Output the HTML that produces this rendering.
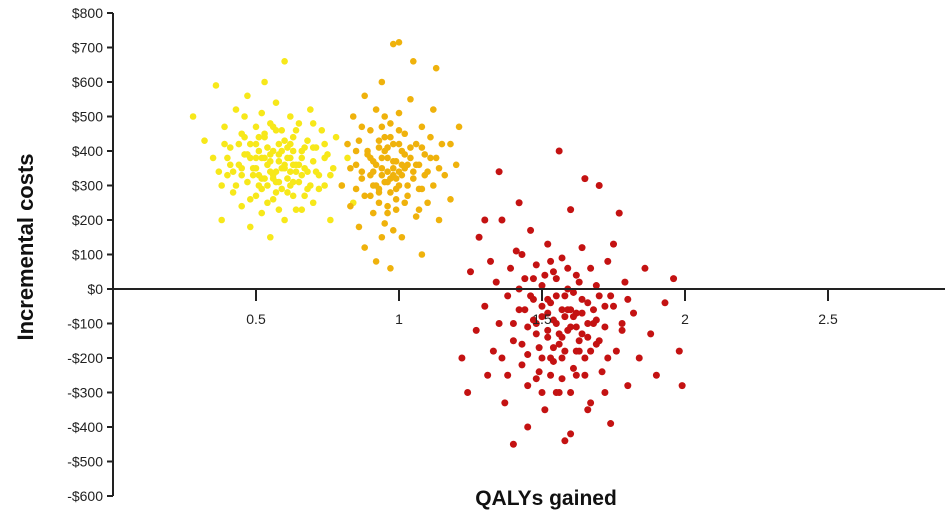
<!DOCTYPE html>
<html><head><meta charset="utf-8"><style>
html,body{margin:0;padding:0;background:#fff;}
svg{display:block;font-family:"Liberation Sans",sans-serif;}
</style></head><body>
<svg id="chart" width="945" height="519" viewBox="0 0 945 519">
<g id="points"></g>
<g id="axes"></g>
<text x="33" y="247" transform="rotate(-90 33 247)" text-anchor="middle" font-size="22" font-weight="bold" fill="#111">Incremental costs</text>
<text x="546" y="505" text-anchor="middle" font-size="21" font-weight="bold" fill="#111">QALYs gained</text>
</svg>
<script>
const yTicks=[800,700,600,500,400,300,200,100,0,-100,-200,-300,-400,-500,-600];
const xTicks=[0.5,1,1.5,2,2.5];
const xTickLabels=["0.5","1","1.5","2","2.5"];
const yellowQ=[0.28,0.32,0.35,0.36,0.38,0.39,0.40,0.41,0.42,0.43,0.44,0.45,0.45,0.46,0.47,0.47,0.48,0.48,0.49,0.50,0.50,0.51,0.51,0.52,0.52,0.53,0.53,0.54,0.54,0.55,0.55,0.56,0.56,0.57,0.57,0.58,0.58,0.59,0.59,0.60,0.60,0.61,0.61,0.62,0.62,0.63,0.63,0.64,0.65,0.65,0.66,0.66,0.67,0.68,0.68,0.69,0.70,0.70,0.71,0.72,0.73,0.74,0.75,0.76,0.77,0.78,0.80,0.82,0.84,0.45,0.50,0.55,0.58,0.62,0.52,0.48,0.44,0.40,0.57,0.63,0.67,0.53,0.60,0.38,0.46,0.70,0.74,0.42,0.56,0.64,
0.50,0.52,0.54,0.56,0.58,0.60,0.62,0.64,0.51,0.53,0.55,0.57,0.59,0.61,0.63,0.49,0.47,0.45,0.43,0.66,0.68,0.70,0.72,0.54,0.56,0.58,0.60,0.52,0.50,0.48,0.46,0.62,0.64,0.66,0.41,0.39,0.37,0.74,0.76,0.55,0.57,0.59,0.53,0.51,0.61,0.63,0.65,0.67,0.69,0.71];
const yellowC=[500,430,380,590,200,470,330,410,280,520,360,450,240,390,310,560,420,180,350,470,270,400,330,510,220,380,440,300,360,480,150,400,260,340,540,420,370,290,460,350,200,410,320,500,380,270,440,360,310,480,400,230,350,430,290,520,370,250,410,330,460,300,390,200,350,440,300,380,250,330,380,340,310,340,290,260,420,380,460,400,270,600,660,300,500,480,420,340,320,230,
350,380,410,330,390,360,420,340,300,450,370,310,400,280,360,330,390,350,300,380,340,410,290,250,470,230,430,320,420,380,440,300,460,330,360,420,340,380,330,390,280,350,320,440,380,310,360,410,300,340];
const orangeQ=[0.80,0.82,0.83,0.84,0.85,0.86,0.86,0.87,0.88,0.88,0.89,0.90,0.90,0.91,0.91,0.92,0.92,0.93,0.93,0.94,0.94,0.95,0.95,0.96,0.96,0.97,0.97,0.98,0.98,0.99,0.99,1.00,1.00,1.01,1.01,1.02,1.02,1.03,1.04,1.04,1.05,1.06,1.06,1.07,1.08,1.08,1.09,1.10,1.10,1.11,1.12,1.13,1.14,1.15,1.16,1.18,1.20,1.21,0.92,0.97,0.98,1.00,1.05,1.13,1.08,0.88,0.94,0.96,0.91,1.03,0.95,0.99,0.93,1.01,0.87,1.07,1.12,0.85,1.18,
0.92,0.94,0.96,0.98,1.00,1.02,0.93,0.95,0.97,0.99,1.01,1.03,0.90,0.89,1.05,1.07,0.94,0.96,0.98,1.00,0.91,1.04,1.06,0.87,0.85,1.09,1.11,0.95,0.97,0.99,0.93,1.02,1.08,0.90,1.14,0.83,0.96,1.00,0.98,0.94];
const orangeC=[300,420,240,500,360,180,430,320,560,270,390,330,460,220,370,520,300,410,250,350,600,440,190,340,380,280,480,330,420,230,370,510,300,400,150,350,450,270,380,550,320,420,210,360,470,290,390,250,340,440,300,380,200,420,330,260,360,470,80,60,710,715,660,640,100,120,380,310,340,360,400,320,290,330,470,230,520,290,420,
360,330,410,370,340,390,280,310,440,260,360,300,380,400,340,290,470,220,350,420,300,410,360,340,400,330,380,500,320,290,430,250,410,270,350,350,240,460,170,150];
const redQ=[1.22,1.24,1.25,1.27,1.28,1.30,1.31,1.32,1.33,1.34,1.35,1.36,1.37,1.38,1.39,1.40,1.41,1.42,1.43,1.44,1.45,1.45,1.46,1.47,1.48,1.48,1.49,1.50,1.50,1.51,1.52,1.52,1.53,1.54,1.54,1.55,1.56,1.56,1.57,1.57,1.58,1.59,1.59,1.60,1.60,1.61,1.62,1.62,1.63,1.64,1.64,1.65,1.66,1.67,1.67,1.68,1.69,1.70,1.70,1.71,1.72,1.73,1.74,1.75,1.76,1.77,1.78,1.79,1.80,1.82,1.84,1.86,1.88,1.90,1.93,1.96,1.99,1.98,1.35,1.40,1.65,1.58,1.45,1.53,1.62,1.47,1.55,1.60,1.52,1.57,1.66,1.43,1.63,1.50,1.48,1.69,1.72,1.38,1.42,1.75,1.30,
1.50,1.52,1.54,1.56,1.58,1.60,1.62,1.64,1.66,1.51,1.53,1.55,1.57,1.59,1.61,1.63,1.48,1.46,1.44,1.42,1.68,1.70,1.72,1.74,1.55,1.57,1.59,1.53,1.49,1.47,1.65,1.67,1.61,1.40,1.36,1.78,1.80,1.56,1.58,1.54,1.62,1.52,1.45,1.69,1.73,1.60,1.50,1.64,1.43,1.66];
const redC=[-200,-300,50,-120,150,-50,-250,80,-180,20,-100,200,-330,-20,60,-150,110,-60,-220,30,-400,-110,170,-30,-260,70,-170,10,-80,-350,130,-140,-40,-210,50,-100,400,-300,-60,90,-180,0,-120,-420,230,-80,-250,40,-150,120,-30,-200,-100,-330,60,-60,-160,300,-20,-240,-110,80,-390,-50,-180,220,-120,20,-280,-70,-200,60,-130,-250,-40,30,-280,-180,340,-450,320,-440,-280,-250,-180,-90,-20,-60,-70,-200,-140,-160,20,-200,-130,-90,-300,-250,250,130,200,
-50,-120,-90,-160,-20,-110,-70,-130,-40,40,-200,30,-140,-60,-230,-180,-100,-20,-60,0,-100,-150,-50,-20,-300,-260,60,80,-240,30,-250,-180,-10,-100,-200,-100,-30,-130,-80,-170,-110,-30,-190,10,-200,-300,-300,-70,100,-350];

const X0=113, XS=286, Y0=289, YS=0.345;
const xs=v=>X0+v*XS, ys=v=>Y0-v*YS;
const NS="http://www.w3.org/2000/svg";
const axes=document.getElementById('axes'), pts=document.getElementById('points');
function mk(tag,attrs,parent){const e=document.createElementNS(NS,tag);for(const k in attrs)e.setAttribute(k,attrs[k]);parent.appendChild(e);return e;}
function series(qs,cs,color,r,name){
  const g=mk('g',{},pts);
  
  
  for(let i=0;i<qs.length;i++){
    const c=mk('circle',{cx:xs(qs[i]),cy:ys(cs[i]),r:r,fill:color},g);
    
    
  }
}
series(yellowQ,yellowC,'#f7e81a',3.3,'yellow-series');
series(orangeQ,orangeC,'#efb20c',3.3,'orange-series');
series(redQ,redC,'#c41212',3.5,'red-series');

const yl=mk('line',{x1:X0,x2:X0,y1:ys(800),y2:ys(-600),stroke:'#222','stroke-width':2},axes);


const xl=mk('line',{x1:X0,x2:945,y1:Y0,y2:Y0,stroke:'#222','stroke-width':2},axes);


yTicks.forEach(v=>{
  const y=ys(v);
  const t=mk('line',{x1:X0-6,x2:X0,y1:y,y2:y,stroke:'#222','stroke-width':2},axes);
  
  
  const lb=mk('text',{x:X0-10,y:y+5,'text-anchor':'end','font-size':14,fill:'#222'},axes);
  lb.textContent=(v<0?'-$':'$')+Math.abs(v);
  
  
});
xTicks.forEach((v,i)=>{
  const x=xs(v);
  const t=mk('line',{x1:x,x2:x,y1:Y0,y2:Y0+12,stroke:'#222','stroke-width':2},axes);
  
  
  const lb=mk('text',{x:x,y:Y0+35,'text-anchor':'middle','font-size':14,fill:'#222'},axes);
  lb.textContent=xTickLabels[i];
  
  
});
</script>
</body></html>
